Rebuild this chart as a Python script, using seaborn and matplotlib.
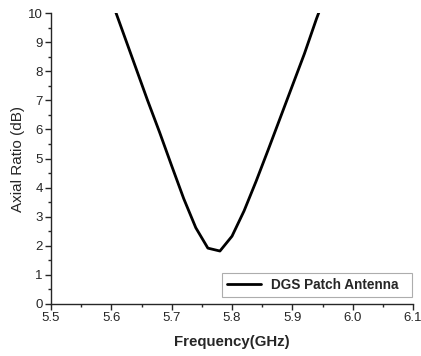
import matplotlib
matplotlib.use("Agg")
import matplotlib.pyplot as plt
from matplotlib.ticker import MultipleLocator
import seaborn as sns
import pandas as pd

freq = [5.60, 5.62, 5.64, 5.66, 5.68, 5.70, 5.72, 5.74, 5.76, 5.78, 5.80, 5.82, 5.84, 5.86, 5.88, 5.90, 5.92, 5.94, 5.96]
axial_ratio = [10.45, 9.3, 8.15, 7.0, 5.9, 4.75, 3.62, 2.62, 1.92, 1.82, 2.33, 3.2, 4.22, 5.3, 6.4, 7.5, 8.6, 9.8, 10.9]
series_name = "DGS Patch Antenna"
xtick_labels = ["5.5", "5.6", "5.7", "5.8", "5.9", "6.0", "6.1"]

df = pd.DataFrame({"Frequency": freq, "AR": axial_ratio, "series": series_name})

sns.set_style("ticks")
plt.rcParams['font.family'] = ['Liberation Sans', 'DejaVu Sans']

fig = plt.figure(figsize=(4.21, 3.56), dpi=100)
ax = fig.add_axes([51/421, (356-304)/356, (413-51)/421, (304-13)/356])

sns.lineplot(data=df, x="Frequency", y="AR", hue="series", palette=["black"],
             linewidth=2.0, ax=ax, sort=True)

ax.set_xlim(5.5, 6.1)
ax.set_ylim(0, 10)
ax.xaxis.set_major_locator(MultipleLocator(0.1))
ax.xaxis.set_minor_locator(MultipleLocator(0.05))
ax.yaxis.set_major_locator(MultipleLocator(1))
ax.yaxis.set_minor_locator(MultipleLocator(0.5))
ax.set_xticks([float(s) for s in xtick_labels])
ax.set_xticklabels(xtick_labels)
ax.tick_params(axis="both", which="major", length=4, width=1, labelsize=9.5, direction="out", pad=2)
ax.tick_params(axis="both", which="minor", length=2, width=1, direction="out")
for s in ["left", "bottom"]:
    ax.spines[s].set_linewidth(1.0)
sns.despine(ax=ax)

ax.set_xlabel("Frequency(GHz)", fontsize=10.8, fontweight="bold", labelpad=8)
ax.set_ylabel("Axial Ratio (dB)", fontsize=11, labelpad=2)

leg = ax.legend(loc="lower left", bbox_to_anchor=(171/362, 7/291, 190/362, 22/291),
                mode="expand", borderaxespad=0, frameon=True, fancybox=False,
                handlelength=2.5, fontsize=9.8, borderpad=0.35, handletextpad=0.75)
leg.get_frame().set_edgecolor("#999999")
leg.get_frame().set_linewidth(0.8)
for t in leg.get_texts():
    t.set_fontweight("bold")

fig.savefig("out.png", dpi=100)
